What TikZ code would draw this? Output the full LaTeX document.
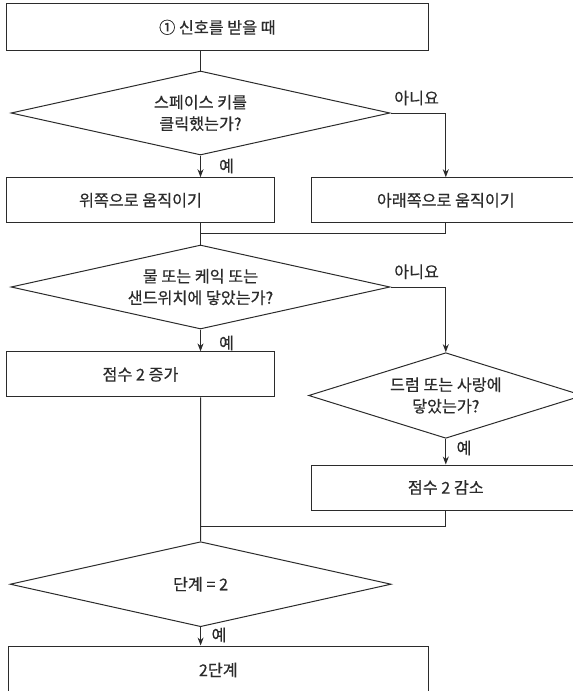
\documentclass[tikz,border=0pt]{standalone}
\usepackage{fontspec}
\setmainfont{Noto Sans CJK KR}[FakeBold=0.5]
\usepackage{tikz}
\usetikzlibrary{arrows.meta,shapes.geometric}
\definecolor{ink}{HTML}{2B2B2B}

\begin{document}
\begin{tikzpicture}[x=1pt,y=-1pt,>={Stealth[length=8pt,width=6pt]},
  every node/.style={text=ink,font=\fontsize{16.2}{21.5}\selectfont},
  box/.style={draw=ink,line width=1pt,rectangle,inner sep=0pt,minimum height=45pt},
  cond/.style={draw=ink,line width=1pt,diamond,aspect=4.5,inner sep=0pt,align=center},
  lbl/.style={inner sep=0pt}]
\useasboundingbox (0,0) rectangle (573,691);
\clip (0,0) rectangle (573,691);
\node[box,minimum width=422pt,minimum height=47pt](signal)at(217.4,27.3){① 신호를 받을 때};
\node[cond,minimum width=379pt,minimum height=84pt](space)at(200.5,113){스페이스 키를\\클릭했는가?};
\node[box,minimum width=268.6pt](up)at(140.5,200.2){위쪽으로 움직이기};
\node[box,minimum width=269pt](down)at(445.8,200.2){아래쪽으로 움직이기};
\node[cond,minimum width=379pt,minimum height=84pt](food)at(200.5,287){물 또는 케익 또는\\샌드위치에 닿았는가?};
\node[box,minimum width=268.6pt](plus)at(140.5,374.4){점수 2 증가};
\node[cond,minimum width=267pt,minimum height=85.6pt](drum)at(445.8,395.5){드럼 또는 사랑에\\닿았는가?};
\node[box,minimum width=269pt](minus)at(445.8,487.5){점수 2 감소};
\node[cond,minimum width=381pt,minimum height=85pt](stage)at(200.6,584.2){단계 = 2};
\node[box,minimum width=420.6pt,minimum height=48pt](level)at(218.3,670){2단계};
\node[lbl](no1)at(416.6,98){아니요};
\node[lbl](yes1)at(226.5,166){예};
\node[lbl](no2)at(416.6,271.7){아니요};
\node[lbl](yes2)at(226.5,343){예};
\node[lbl](yes3)at(464,448){예};
\node[lbl](yes4)at(219,635){예};
\coordinate(join1)at(200.6,233.3);
\coordinate(join2)at(200.6,526.7);
\begin{scope}[draw=ink,line width=1pt]
\draw(signal.south -| space.north)--(space.north);
\draw[->](space.south)--(space.south |- up.north);
\draw[->](space.east)-|(down.north);
\draw(down.south)|-(join1);
\draw(space.south |- up.south)--(food.north);
\draw[->](food.south)--(food.south |- plus.north);
\draw[->](food.east)-|(drum.north);
\draw[->](drum.south)--(minus.north);
\draw(minus.south)|-(join2);
\draw(food.south |- plus.south)--(stage.north);
\draw[->](stage.south)--(stage.south |- level.north);
\end{scope}
\end{tikzpicture}
\end{document}
